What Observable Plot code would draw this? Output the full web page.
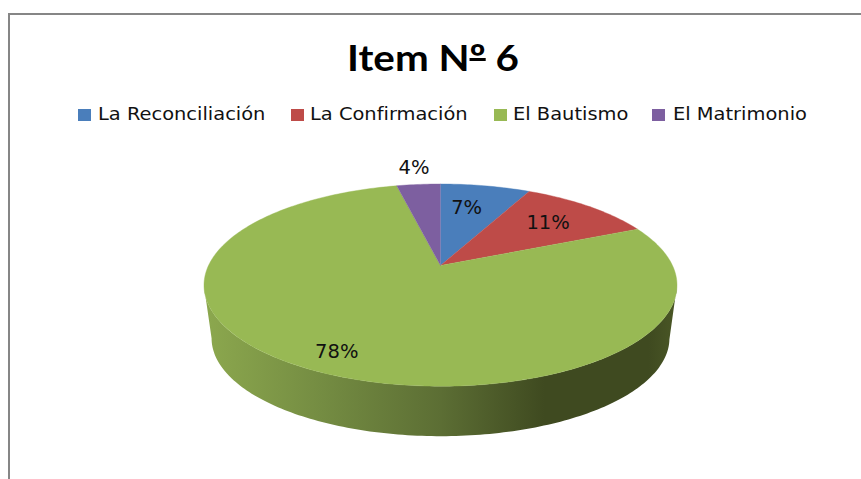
<!DOCTYPE html>
<html lang="es">
<head>
<meta charset="utf-8">
<script src="https://cdn.jsdelivr.net/npm/d3@7"></script>
<script src="https://cdn.jsdelivr.net/npm/@observablehq/plot@0.6"></script>
<style>
  html, body { margin: 0; padding: 0; background: #fff; width: 861px; height: 479px; overflow: hidden; }
  #frame { position: absolute; left: 8px; top: 13px; width: 1000px; height: 800px; border: 2px solid #868686; box-sizing: border-box; }
  #title { position: absolute; left: 233px; width: 400px; top: 32px; text-align: center; font: 700 36.5px/50px Lato, sans-serif; color: #000; transform: scaleX(1.105); }
  #title span { text-decoration: underline; text-decoration-thickness: 2.5px; text-underline-offset: -13px; text-decoration-skip-ink: none; }
  .item { position: absolute; top: 102px; height: 24px; font: 18.5px/24px "DejaVu Sans", sans-serif; color: #111; white-space: nowrap; transform-origin: left center; transform: scaleX(1.05); }
  .sw { position: absolute; top: 109px; width: 13px; height: 12px; }
  #chart { position: absolute; left: 0; top: 130px; }
  svg { display: block; }
</style>
</head>
<body>
<div id="frame"></div>
<div id="title"></div>
<div id="legend"></div>
<div id="chart"></div>
<script>
const titleMain = "Item N";
const titleOrdinal = "º";
const titleEnd = " 6";
const categories = ["La Reconciliación", "La Confirmación", "El Bautismo", "El Matrimonio"];
const values = [7.4, 11.0, 78.0, 3.6];
const colors = ["#4a7ebb", "#be4b48", "#98b954", "#7d5fa0"];

// layout only
const legendX = [78, 291, 494, 652];
const legendTextX = [98, 310, 513, 673];
const labelRadius = [0.686, 0.70, 0.85, 1.26];
const labelNudge = [-2.6, 0, 0, 0];  // degrees
const p = 0.194;                     // perspective of the tilted disc
const wallScale = 0.968, wallDrop = 0.553;

const legend = document.getElementById("legend");
categories.forEach((c, i) => {
  const s = document.createElement("div");
  s.className = "sw"; s.style.left = legendX[i] + "px"; s.style.background = colors[i];
  const t = document.createElement("div");
  t.className = "item"; t.style.left = legendTextX[i] + "px"; t.textContent = c;
  legend.append(s, t);
});
const titleEl = document.getElementById("title");
const ord = document.createElement("span");
ord.textContent = titleOrdinal;
titleEl.append(titleMain, ord, titleEnd);

const rad = d => d * Math.PI / 180;
const project = (deg, r = 1, scale = 1, drop = 0) => {
  const X = r * Math.sin(rad(deg)), Y = r * Math.cos(rad(deg));
  const w = 1 + p * Y;
  return {x: scale * X / w, y: scale * Y / w - drop};
};

const total = d3.sum(values);
let acc = 0;
const slices = categories.map((name, i) => {
  const a0 = acc / total * 360;
  acc += values[i];
  return {name, value: values[i], a0, a1: acc / total * 360, i};
});

const slicePts = slices.flatMap(s => {
  const n = Math.max(4, Math.ceil(s.a1 - s.a0));
  const pts = [{name: s.name, ...project(0, 0)}];
  for (let k = 0; k <= n; k++) pts.push({name: s.name, ...project(s.a0 + (s.a1 - s.a0) * k / n)});
  return pts;
});

const silhouette = Math.acos(-p) * 180 / Math.PI;
const wallPts = [];
for (let a = silhouette; a <= 360 - silhouette; a += 1) wallPts.push(project(a));
for (let a = 360 - silhouette; a >= silhouette; a -= 1) wallPts.push(project(a, 1, wallScale, wallDrop));

const labels = slices.map((s, i) => ({
  text: Math.round(s.value) + "%",
  ...project((s.a0 + s.a1) / 2 + labelNudge[i], labelRadius[i])
}));

const gradient = () => {
  const defs = d3.create("svg:defs");
  const g = defs.append("linearGradient").attr("id", "wallGrad").attr("x1", 0).attr("x2", 1).attr("y1", 0).attr("y2", 0);
  [[0, "#8ca84e"], [0.25, "#748c42"], [0.5, "#5c6e34"], [0.72, "#3f4a20"], [0.94, "#3f4a20"], [1, "#4a5726"]]
    .forEach(([o, c]) => g.append("stop").attr("offset", o).attr("stop-color", c));
  return defs.node();
};

const cx = 440, cy = 265 - 130, g = 232, h = 97.3;
const plot = Plot.plot({
  width: 861,
  height: 349,
  margin: 0,
  x: {domain: [-1, 1], range: [cx - g, cx + g], axis: null},
  y: {domain: [-1, 1], range: [cy + h, cy - h], axis: null},
  color: {domain: categories, range: colors},
  marks: [
    gradient,
    Plot.line(wallPts, {x: "x", y: "y", fill: "url(#wallGrad)", stroke: null}),
    Plot.line(slicePts, {x: "x", y: "y", z: "name", fill: "name", stroke: "name", strokeWidth: 0.4}),
    Plot.text(labels, {x: "x", y: "y", text: "text", fontSize: 19.5, fontFamily: "DejaVu Sans", fill: "#111"})
  ]
});
document.getElementById("chart").append(plot);
</script>
</body>
</html>
